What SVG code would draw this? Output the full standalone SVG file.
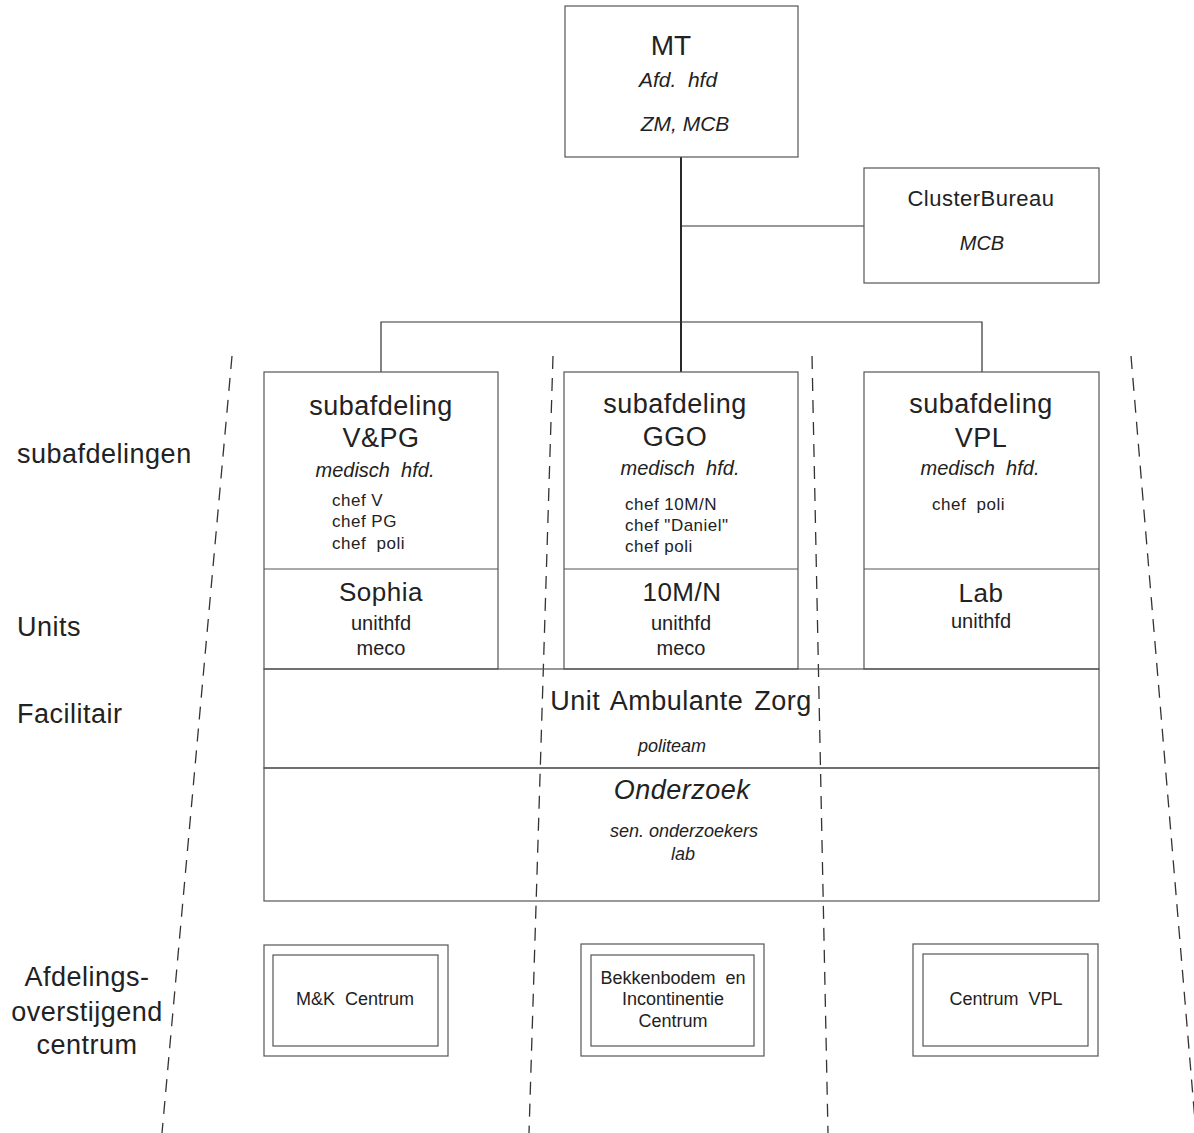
<svg xmlns="http://www.w3.org/2000/svg" width="1194" height="1133" viewBox="0 0 1194 1133">
<style>
  text { font-family: "Liberation Sans", Arial, sans-serif; fill: #222; white-space: pre; }
  .c { text-anchor: middle; }
  .i { font-style: italic; }
  .ls { letter-spacing: 0.5px; }
  .box { fill: none; stroke: #555; stroke-width: 1.2; }
  .conn { fill: none; stroke: #333; stroke-width: 1.2; }
  .main { fill: none; stroke: #111; stroke-width: 1.8; }
  .dash { fill: none; stroke: #333; stroke-width: 1.3; stroke-dasharray: 13 9; }
</style>
<rect width="1194" height="1133" fill="#fff"/>

<g id="separators">
  <line class="dash" x1="232" y1="356" x2="162" y2="1133"/>
  <line class="dash" x1="553" y1="356" x2="529" y2="1133"/>
  <line class="dash" x1="812" y1="356" x2="828" y2="1133"/>
  <line class="dash" x1="1131" y1="356" x2="1196" y2="1133"/>
</g>

<g id="connectors">
  <line class="main" x1="681" y1="157" x2="681" y2="372"/>
  <line class="conn" x1="681" y1="226" x2="864" y2="226"/>
  <polyline class="conn" points="381,372 381,322 982,322 982,372"/>
</g>

<g id="row-labels">
  <text class="ls" x="17" y="463" font-size="27">subafdelingen</text>
  <text class="ls" x="17" y="636" font-size="27">Units</text>
  <text class="ls" x="17" y="723" font-size="27">Facilitair</text>
  <text class="c ls" x="87" y="986" font-size="27">Afdelings-</text>
  <text class="c ls" x="87" y="1021" font-size="27">overstijgend</text>
  <text class="c ls" x="87" y="1054" font-size="27">centrum</text>
</g>

<g id="node-mt">
  <rect class="box" x="565" y="6" width="233" height="151"/>
  <text class="c" x="671" y="55" font-size="28">MT</text>
  <text class="c i" x="678" y="87" font-size="21">Afd.  hfd</text>
  <text class="c i" x="685" y="131" font-size="21">ZM, MCB</text>
</g>

<g id="node-clusterbureau">
  <rect class="box" x="864" y="168" width="235" height="115"/>
  <text class="c ls" x="981" y="206" font-size="22">ClusterBureau</text>
  <text class="c i" x="982" y="250" font-size="20">MCB</text>
</g>

<g id="node-vpg">
  <rect class="box" x="264" y="372" width="234" height="297"/>
  <line class="box" x1="264" y1="569" x2="498" y2="569"/>
  <text class="c ls" x="381" y="415" font-size="27">subafdeling</text>
  <text class="c ls" x="381" y="447" font-size="27">V&amp;PG</text>
  <text class="c i" x="375" y="477" font-size="20">medisch  hfd.</text>
  <text class="ls" x="332" y="506" font-size="17">chef V</text>
  <text class="ls" x="332" y="527" font-size="17">chef PG</text>
  <text class="ls" x="332" y="549" font-size="17">chef  poli</text>
  <text class="c ls" x="381" y="601" font-size="26">Sophia</text>
  <text class="c" x="381" y="630" font-size="20">unithfd</text>
  <text class="c" x="381" y="655" font-size="20">meco</text>
</g>

<g id="node-ggo">
  <rect class="box" x="564" y="372" width="234" height="297"/>
  <line class="box" x1="564" y1="569" x2="798" y2="569"/>
  <text class="c ls" x="675" y="413" font-size="27">subafdeling</text>
  <text class="c ls" x="675" y="446" font-size="27">GGO</text>
  <text class="c i" x="680" y="475" font-size="20">medisch  hfd.</text>
  <text class="ls" x="625" y="510" font-size="17">chef 10M/N</text>
  <text class="ls" x="625" y="531" font-size="17">chef "Daniel"</text>
  <text class="ls" x="625" y="552" font-size="17">chef poli</text>
  <text class="c ls" x="682" y="601" font-size="26">10M/N</text>
  <text class="c" x="681" y="630" font-size="20">unithfd</text>
  <text class="c" x="681" y="655" font-size="20">meco</text>
</g>

<g id="node-vpl">
  <rect class="box" x="864" y="372" width="235" height="297"/>
  <line class="box" x1="864" y1="569" x2="1099" y2="569"/>
  <text class="c ls" x="981" y="413" font-size="27">subafdeling</text>
  <text class="c ls" x="981" y="447" font-size="27">VPL</text>
  <text class="c i" x="980" y="475" font-size="20">medisch  hfd.</text>
  <text class="ls" x="932" y="510" font-size="17">chef  poli</text>
  <text class="c ls" x="981" y="602" font-size="26">Lab</text>
  <text class="c" x="981" y="628" font-size="20">unithfd</text>
</g>

<g id="node-uaz">
  <rect class="box" x="264" y="669" width="835" height="99"/>
  <text class="c ls" x="681" y="710" font-size="27" word-spacing="3">Unit Ambulante Zorg</text>
  <text class="c i" x="672" y="752" font-size="18">politeam</text>
</g>

<g id="node-onderzoek">
  <rect class="box" x="264" y="768" width="835" height="133"/>
  <text class="c i ls" x="682" y="799" font-size="27">Onderzoek</text>
  <text class="c i" x="684" y="837" font-size="18">sen. onderzoekers</text>
  <text class="c i" x="683" y="860" font-size="18">lab</text>
</g>

<g id="node-mk">
  <rect class="box" x="264" y="945" width="184" height="111"/>
  <rect class="box" x="273" y="955" width="165" height="91"/>
  <text class="c" x="355" y="1005" font-size="18">M&amp;K  Centrum</text>
</g>

<g id="node-bekkenbodem">
  <rect class="box" x="581" y="944" width="183" height="112"/>
  <rect class="box" x="591" y="955" width="163" height="91"/>
  <text class="c" x="673" y="984" font-size="18">Bekkenbodem  en</text>
  <text class="c" x="673" y="1005" font-size="18">Incontinentie</text>
  <text class="c" x="673" y="1027" font-size="18">Centrum</text>
</g>

<g id="node-centrum-vpl">
  <rect class="box" x="913" y="944" width="185" height="112"/>
  <rect class="box" x="923" y="954" width="165" height="92"/>
  <text class="c" x="1006" y="1005" font-size="18">Centrum  VPL</text>
</g>
</svg>
